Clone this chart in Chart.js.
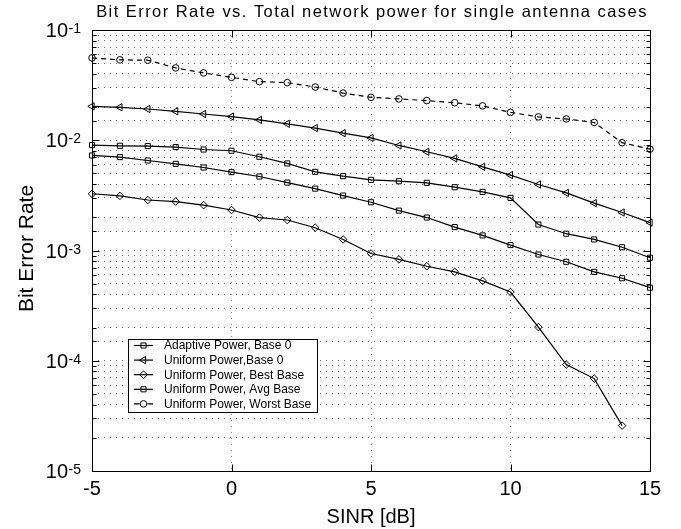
<!DOCTYPE html>
<html><head><meta charset="utf-8">
<script src="https://cdn.jsdelivr.net/npm/chart.js@4/dist/chart.umd.min.js"></script>
<style>html,body{margin:0;padding:0;background:#fff;}#wrap{width:681px;height:529px;}</style>
</head><body><div id="wrap"><canvas id="c" width="681" height="529"></canvas></div>
<script>
const chartTitle = 'Bit Error Rate vs. Total network power for single antenna cases';
const xAxisTitle = 'SINR [dB]';
const yAxisTitle = 'Bit Error Rate';
const sinrDb = [-5,-4,-3,-2,-1,0,1,2,3,4,5,6,7,8,9,10,11,12,13,14,15];
const adaptiveBase0 = [0.00728,0.00703,0.00655,0.00611,0.00566,0.00514,0.00469,0.00413,0.00364,0.00315,0.00274,0.0023,0.00199,0.00163,0.00137,0.00112,0.00092,0.00079,0.00064,0.00056,0.00046];
const uniformBase0 = [0.0203,0.0199,0.0192,0.0183,0.0173,0.0164,0.0153,0.0141,0.0129,0.0116,0.0105,0.00897,0.00786,0.00684,0.00574,0.00483,0.00397,0.00333,0.00269,0.00221,0.00179];
const uniformBestBase = [0.00327,0.00313,0.00287,0.00278,0.00258,0.00233,0.00199,0.00189,0.00161,0.00126,0.00094,0.00083,0.00072,0.00064,0.00053,0.00042,0.000202,0.0000923,0.0000689,0.0000258];
const uniformAvgBase = [0.00904,0.00891,0.00885,0.00867,0.00824,0.00803,0.00708,0.00616,0.00517,0.00472,0.00437,0.00425,0.00411,0.00375,0.0034,0.0030,0.00172,0.00142,0.00126,0.00107,0.00086];
const uniformWorstBase = [0.0558,0.0536,0.0532,0.0453,0.0408,0.0372,0.0340,0.0333,0.0304,0.0268,0.0245,0.0237,0.0229,0.0219,0.0205,0.0179,0.0163,0.0156,0.0145,0.0095,0.0083];
const seriesNames = ['Adaptive Power, Base 0','Uniform Power,Base 0','Uniform Power, Best Base','Uniform Power, Avg Base','Uniform Power, Worst Base'];
const xTickValues = [-5,0,5,10,15];
const yTickExponents = [-1,-2,-3,-4,-5];

const FONT = '"Liberation Sans", Arial, Helvetica, sans-serif';
const styles = [
  {pointStyle:'rect', radius:3.6, rotation:0, dash:[]},
  {pointStyle:'triangle', radius:4.2, rotation:-90, dash:[]},
  {pointStyle:'rectRot', radius:3.8, rotation:0, dash:[]},
  {pointStyle:'rect', radius:3.6, rotation:0, dash:[]},
  {pointStyle:'circle', radius:3.3, rotation:0, dash:[5,4]}
];
const values = [adaptiveBase0, uniformBase0, uniformBestBase, uniformAvgBase, uniformWorstBase];
const datasets = values.map((vals, i) => ({
  label: seriesNames[i],
  data: vals.map((v, j) => ({x: sinrDb[j], y: v})),
  borderColor: '#000', borderWidth: 1.2, borderDash: styles[i].dash,
  pointStyle: styles[i].pointStyle, pointRadius: styles[i].radius, pointRotation: styles[i].rotation,
  pointBorderColor: '#000', pointBorderWidth: 1, pointBackgroundColor: 'rgba(0,0,0,0)',
  tension: 0, fill: false, clip: false
}));

function drawMarker(ctx, st, x, y) {
  if (Chart.helpers && Chart.helpers.drawPoint) {
    ctx.strokeStyle = '#000'; ctx.fillStyle = 'rgba(0,0,0,0)'; ctx.lineWidth = 1;
    Chart.helpers.drawPoint(ctx, {pointStyle: st.pointStyle, rotation: st.rotation, radius: st.radius, borderWidth: 1}, x, y);
  }
}

const overlay = {
  id: 'overlay',
  afterDraw(chart) {
    const {ctx, chartArea: a, scales: {x, y}} = chart;
    const L = Math.round(a.left) + 0.5, R = Math.round(a.right) + 0.5, T = Math.round(a.top) + 0.5, B = Math.round(a.bottom) + 0.5;
    ctx.save();
    ctx.setLineDash([]);
    ctx.strokeStyle = '#000'; ctx.lineWidth = 1;
    ctx.beginPath();
    y.ticks.forEach(t => {
      const lg = Math.log10(t.value);
      const major = Math.abs(lg - Math.round(lg)) < 1e-6;
      const len = major ? 7 : 4;
      const py = Math.round(y.getPixelForValue(t.value)) + 0.5;
      ctx.moveTo(L, py); ctx.lineTo(L + len, py);
      ctx.moveTo(R, py); ctx.lineTo(R - len, py);
    });
    xTickValues.forEach(v => {
      const px = Math.round(x.getPixelForValue(v)) + 0.5;
      ctx.moveTo(px, B); ctx.lineTo(px, B - 7);
      ctx.moveTo(px, T); ctx.lineTo(px, T + 7);
    });
    ctx.stroke();
    ctx.strokeRect(L, T, R - L, B - T);

    ctx.fillStyle = '#000';
    ctx.font = '20px ' + FONT; ctx.textAlign = 'center'; ctx.textBaseline = 'alphabetic';
    xTickValues.forEach(v => ctx.fillText(String(v), x.getPixelForValue(v), a.bottom + 23.5));
    yTickExponents.forEach(e => {
      const py = y.getPixelForValue(Math.pow(10, e));
      ctx.font = '20px ' + FONT; ctx.textAlign = 'right';
      ctx.fillText('10', a.left - 24, py + 7);
      ctx.font = '14px ' + FONT; ctx.textAlign = 'left';
      ctx.fillText(String(e), a.left - 23.5, py + 3);
    });
    ctx.font = '20px ' + FONT; ctx.textAlign = 'center';
    ctx.fillText(xAxisTitle, (a.left + a.right) / 2, 523);
    ctx.save();
    ctx.translate(33, (a.top + a.bottom) / 2 - 2);
    ctx.rotate(-Math.PI / 2);
    ctx.font = '21px ' + FONT;
    ctx.fillText(yAxisTitle, 0, 0);
    ctx.restore();
    // title (wide letter spacing as in the reference)
    ctx.save();
    ctx.font = '16.5px ' + FONT; ctx.textAlign = 'center'; ctx.textBaseline = 'middle';
    if ('letterSpacing' in ctx) ctx.letterSpacing = '1.45px';
    ctx.fillText(chartTitle, (a.left + a.right) / 2 + 1, 12);
    ctx.restore();

    // legend
    const bx = 128.5, by = 339.5, bw = 189, bh = 73;
    ctx.fillStyle = '#fff'; ctx.fillRect(bx, by, bw, bh);
    ctx.strokeStyle = '#000'; ctx.lineWidth = 1; ctx.strokeRect(bx, by, bw, bh);
    ctx.font = '12px ' + FONT; ctx.textAlign = 'left'; ctx.textBaseline = 'middle';
    seriesNames.forEach((name, i) => {
      const ry = 345.5 + i * 14.6;
      ctx.save();
      ctx.lineWidth = 1.2; ctx.strokeStyle = '#000';
      ctx.beginPath();
      if (styles[i].dash.length) {
        ctx.moveTo(134, ry); ctx.lineTo(139.5, ry);
        ctx.moveTo(147.5, ry); ctx.lineTo(153, ry);
      } else {
        ctx.moveTo(134, ry); ctx.lineTo(153, ry);
      }
      ctx.stroke();
      drawMarker(ctx, styles[i], 143.5, ry);
      ctx.restore();
      ctx.fillStyle = '#000';
      ctx.fillText(name, 164, ry + 0.5);
    });
    ctx.restore();
  }
};

new Chart(document.getElementById('c').getContext('2d'), {
  type: 'line',
  data: {datasets},
  options: {
    responsive: false, animation: false, devicePixelRatio: 1,
    layout: {padding: {left: 92, right: 31, top: 30, bottom: 58}},
    plugins: {legend: {display: false}, title: {display: false}, tooltip: {enabled: false}},
    scales: {
      x: {type: 'linear', min: -5, max: 15,
          ticks: {display: false, stepSize: 5},
          grid: {color: '#8a8a8a', lineWidth: 1, drawTicks: false},
          border: {display: false, dash: [1, 5]},
          afterFit(s) { s.height = 0; }},
      y: {type: 'logarithmic', min: 1e-5, max: 1e-1,
          ticks: {display: false, autoSkip: false},
          grid: {color: '#6e6e6e', lineWidth: 1, drawTicks: false},
          border: {display: false, dash: [1, 5]},
          afterFit(s) { s.width = 0; }}
    }
  },
  plugins: [overlay]
});
</script></body></html>
